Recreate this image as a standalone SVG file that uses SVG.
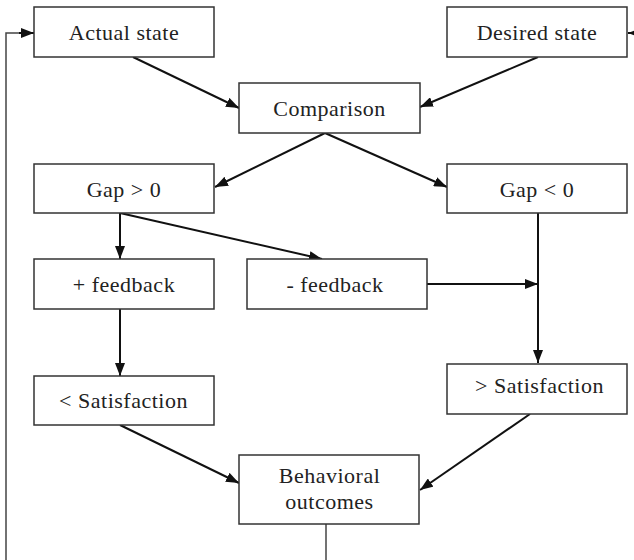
<svg xmlns="http://www.w3.org/2000/svg" width="634" height="560" viewBox="0 0 634 560">
  <defs>
    <marker id="arrow" viewBox="0 0 13 10" refX="13" refY="5" markerWidth="13" markerHeight="10" markerUnits="userSpaceOnUse" orient="auto">
      <path d="M0,0 L13,5 L0,10 z" fill="#111"/>
    </marker>
  </defs>
  <style>
    .box { fill: #fff; stroke: #333; stroke-width: 1.5; }
    .label { font-family: "Liberation Serif", "Times New Roman", serif; font-size: 22px; letter-spacing: 0.5px; fill: #222; text-anchor: middle; }
    .edge { fill: none; stroke: #111; stroke-width: 2; }
    .loop { fill: none; stroke: #444; stroke-width: 1.5; }
  </style>
  <rect width="634" height="560" fill="#fff"/>

  <!-- connectors -->
  <g id="connectors">
    <line class="edge" x1="133" y1="57" x2="239" y2="108" marker-end="url(#arrow)"/>
    <line class="edge" x1="538" y1="57" x2="420" y2="107" marker-end="url(#arrow)"/>
    <line class="edge" x1="660" y1="33" x2="628" y2="33" marker-end="url(#arrow)"/>
    <line class="edge" x1="325" y1="133" x2="215" y2="187" marker-end="url(#arrow)"/>
    <line class="edge" x1="325" y1="133" x2="447" y2="187" marker-end="url(#arrow)"/>
    <line class="edge" x1="120" y1="213" x2="120" y2="259" marker-end="url(#arrow)"/>
    <line class="edge" x1="120" y1="213" x2="322" y2="259" marker-end="url(#arrow)"/>
    <line class="edge" x1="538" y1="213" x2="538" y2="363" marker-end="url(#arrow)"/>
    <line class="edge" x1="427" y1="284" x2="538" y2="284" marker-end="url(#arrow)"/>
    <line class="edge" x1="120" y1="309" x2="120" y2="376" marker-end="url(#arrow)"/>
    <line class="edge" x1="120" y1="425" x2="239" y2="483" marker-end="url(#arrow)"/>
    <line class="edge" x1="530" y1="414" x2="420" y2="490" marker-end="url(#arrow)"/>
    <line class="loop" x1="326" y1="524" x2="326" y2="560"/>
    <path class="loop" d="M6,560 V33 H20"/>
    <line class="edge" x1="19" y1="33" x2="34" y2="33" marker-end="url(#arrow)"/>
  </g>

  <!-- nodes -->
  <g id="actual-state">
    <rect class="box" x="34" y="7" width="180" height="50"/>
    <text class="label" x="124" y="39.5">Actual state</text>
  </g>
  <g id="desired-state">
    <rect class="box" x="447" y="7" width="180" height="50"/>
    <text class="label" x="537" y="39.5">Desired state</text>
  </g>
  <g id="comparison">
    <rect class="box" x="239" y="83" width="181" height="50"/>
    <text class="label" x="329.5" y="115.5">Comparison</text>
  </g>
  <g id="gap-positive">
    <rect class="box" x="34" y="164" width="180" height="49"/>
    <text class="label" x="124" y="197">Gap &gt; 0</text>
  </g>
  <g id="gap-negative">
    <rect class="box" x="447" y="164" width="180" height="49"/>
    <text class="label" x="537" y="197">Gap &lt; 0</text>
  </g>
  <g id="positive-feedback">
    <rect class="box" x="34" y="259" width="180" height="50"/>
    <text class="label" x="124" y="291.5">+ feedback</text>
  </g>
  <g id="negative-feedback">
    <rect class="box" x="247" y="259" width="180" height="50"/>
    <text class="label" x="335" y="291.5">- feedback</text>
  </g>
  <g id="lower-satisfaction">
    <rect class="box" x="34" y="376" width="180" height="49"/>
    <text class="label" x="123.5" y="408">&lt; Satisfaction</text>
  </g>
  <g id="higher-satisfaction">
    <rect class="box" x="447" y="364" width="180" height="50"/>
    <text class="label" x="539.5" y="393">&gt; Satisfaction</text>
  </g>
  <g id="behavioral-outcomes">
    <rect class="box" x="239" y="455" width="180" height="69"/>
    <text class="label" x="329.5" y="483">Behavioral</text>
    <text class="label" x="329.5" y="509">outcomes</text>
  </g>
</svg>
